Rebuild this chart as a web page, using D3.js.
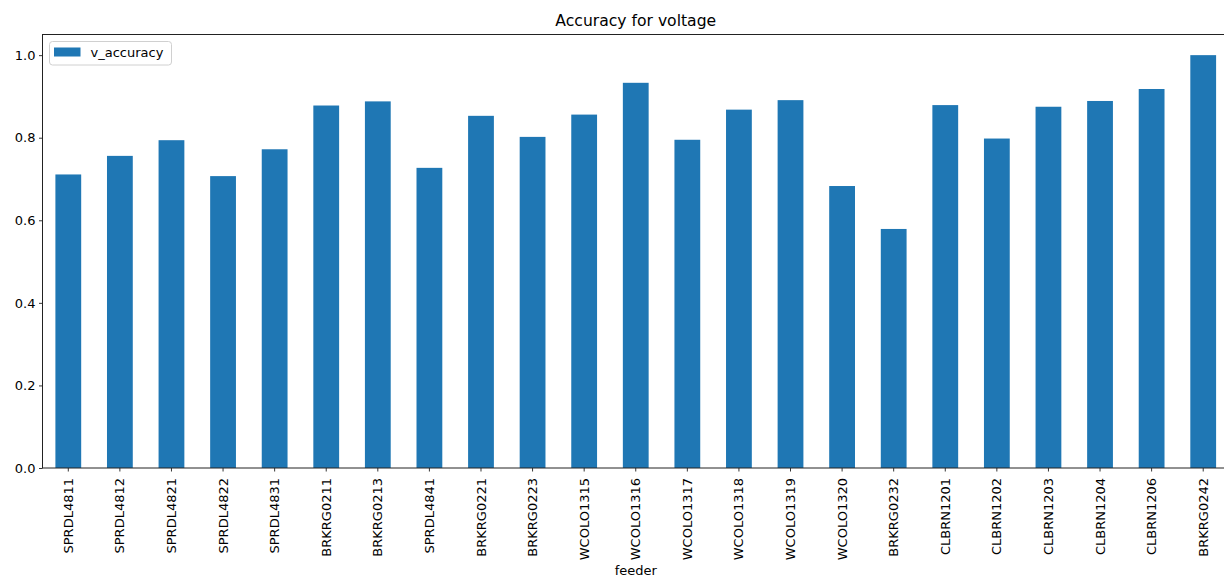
<!DOCTYPE html>
<html><head><meta charset="utf-8">
<script src="https://cdn.jsdelivr.net/npm/d3@7"></script>
<style>body{margin:0;background:#fff}svg{display:block}text{font-family:"DejaVu Sans",sans-serif;fill:#000}</style>
</head><body>
<script>
const feeders = ["SPRDL4811","SPRDL4812","SPRDL4821","SPRDL4822","SPRDL4831","BRKRG0211","BRKRG0213","SPRDL4841","BRKRG0221","BRKRG0223","WCOLO1315","WCOLO1316","WCOLO1317","WCOLO1318","WCOLO1319","WCOLO1320","BRKRG0232","CLBRN1201","CLBRN1202","CLBRN1203","CLBRN1204","CLBRN1206","BRKRG0242"];
const vAccuracy = [0.711,0.756,0.794,0.707,0.772,0.878,0.888,0.727,0.853,0.802,0.856,0.933,0.795,0.868,0.891,0.683,0.579,0.879,0.798,0.875,0.889,0.918,1.0];
const yTicks = [0.0,0.2,0.4,0.6,0.8,1.0];
const title = "Accuracy for voltage";
const xLabel = "feeder";
const seriesName = "v_accuracy";

const W=1224,H=578;
const m={left:42.5,right:1229,top:34.5,bottom:468};
const svg=d3.select("body").append("svg").attr("width",W).attr("height",H);
const x=d3.scaleBand().domain(feeders).range([m.left,m.right]).paddingInner(0.5).paddingOuter(0.25);
const y=d3.scaleLinear().domain([0,1.05]).range([m.bottom,m.top]);
const color="#1f77b4";

svg.append("g").selectAll("rect").data(feeders).join("rect")
  .attr("x",d=>x(d)).attr("width",x.bandwidth())
  .attr("y",(d,i)=>y(vAccuracy[i])).attr("height",(d,i)=>y(0)-y(vAccuracy[i]))
  .attr("fill",color);

const xa=svg.append("g").attr("transform",`translate(0,${m.bottom})`)
  .call(d3.axisBottom(x).tickSize(3.5).tickPadding(3.5).tickSizeOuter(0));
xa.select(".domain").remove();
xa.selectAll("line").attr("stroke","#000").attr("stroke-width",0.8);
xa.selectAll("text").attr("font-size",13).attr("transform","rotate(-90)")
  .attr("text-anchor","end").attr("x",-10).attr("y",0).attr("dy","0.35em").attr("font-family","DejaVu Sans");

const ya=svg.append("g").attr("transform",`translate(${m.left},0)`)
  .call(d3.axisLeft(y).tickValues(yTicks).tickFormat(d3.format(".1f")).tickSize(3.5).tickPadding(3.5).tickSizeOuter(0));
ya.select(".domain").remove();
ya.selectAll("line").attr("stroke","#000").attr("stroke-width",0.8);
ya.selectAll("text").attr("font-size",13).attr("font-family","DejaVu Sans");

svg.append("rect").attr("x",m.left).attr("y",m.top).attr("width",m.right-m.left).attr("height",m.bottom-m.top)
  .attr("fill","none").attr("stroke","#222").attr("stroke-width",1);

svg.append("text").attr("x",(m.left+m.right)/2).attr("y",26).attr("text-anchor","middle")
  .attr("font-size",15.6).text(title);
svg.append("text").attr("x",(m.left+m.right)/2).attr("y",575).attr("text-anchor","middle")
  .attr("font-size",13).text(xLabel);

const lg=svg.append("g");
lg.append("rect").attr("x",49.5).attr("y",41.5).attr("width",122).attr("height",23.5).attr("rx",3)
  .attr("fill","#fff").attr("fill-opacity",0.8).attr("stroke","#d0d0d0").attr("stroke-width",1);
lg.append("rect").attr("x",54).attr("y",47.5).attr("width",26.5).attr("height",9).attr("fill",color);
lg.append("text").attr("x",90.5).attr("y",57.3).attr("font-size",13).text(seriesName);
</script>
</body></html>
